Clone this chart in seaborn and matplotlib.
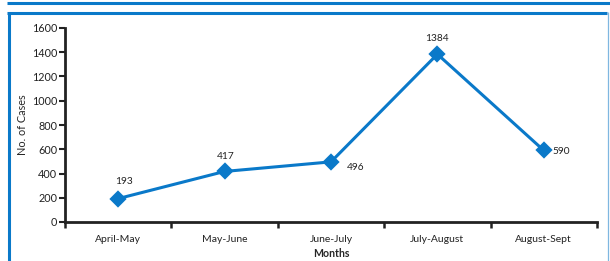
import numpy as np
import pandas as pd
import matplotlib
matplotlib.use("Agg")
import matplotlib.pyplot as plt
from matplotlib.lines import Line2D
import seaborn as sns

# Chart data
months = ["April-May", "May-June", "June-July", "July-August", "August-Sept"]
cases = [193, 417, 496, 1384, 590]
y_ticks = [0, 200, 400, 600, 800, 1000, 1200, 1400, 1600]

BLUE = "#0a79c9"
AXIS = "#222222"

sns.set_theme(style="white")
plt.rcParams["font.family"] = ["Lato", "DejaVu Sans"]

W, H = 610, 261
fig = plt.figure(figsize=(W / 100, H / 100), dpi=100)
ax = fig.add_axes([65 / W, (H - 222) / H, (597 - 65) / W, (222 - 28) / H])

df = pd.DataFrame({"Months": months, "Cases": cases})
sns.pointplot(data=df, x="Months", y="Cases", ax=ax, color=BLUE,
              markers="D", markersize=7, linewidth=2.2, errorbar=None)

ax.set_xlim(-0.5, len(months) - 0.5)
ax.set_ylim(0, 1600)
ax.set_yticks(y_ticks)
ax.tick_params(axis="y", labelsize=7.8, length=4, width=1.5, color=AXIS,
               left=True, pad=1.5, labelcolor="#222222")
ax.tick_params(axis="x", which="major", labelsize=7.5, length=0, pad=9,
               labelcolor="#222222")
ax.set_xticks(np.arange(-0.5, len(months)), minor=True)
ax.tick_params(axis="x", which="minor", length=4, width=1.8, color=AXIS,
               bottom=True, direction="out")

for side in ["top", "right"]:
    ax.spines[side].set_visible(False)
for side in ["left", "bottom"]:
    ax.spines[side].set_color(AXIS)
    ax.spines[side].set_linewidth(2)

ax.set_xlabel("Months", fontsize=7.6, fontweight="bold", labelpad=3.5)
ax.set_ylabel("No. of Cases", fontsize=7.8, labelpad=3)

# data labels: (x offset, y offset, ha) in points
offsets = [(4, 12, "center"), (1, 11, "center"), (11.5, -4, "left"),
           (0, 11, "center"), (6, -1, "left")]
for i, (v, (dx, dy, ha)) in enumerate(zip(cases, offsets)):
    ax.annotate(str(v), (i, v), xytext=(dx, dy), textcoords="offset points",
                ha=ha, va="center", fontsize=7.3, color="#222222")

# decorative frame lines
def px_line(x0, y0, x1, y1, lw, color):
    fig.add_artist(Line2D([x0 / W, x1 / W], [1 - y0 / H, 1 - y1 / H],
                          transform=fig.transFigure, lw=lw, color=color,
                          solid_capstyle="butt"))

px_line(7, 3, 610, 3, 2.2, BLUE)
px_line(7, 13, 607, 13, 2.2, BLUE)
px_line(8.5, 12, 8.5, 261, 2.2, BLUE)
px_line(608, 12, 608, 261, 0.9, "#7fb7e0")

fig.savefig("out.png", dpi=100)
